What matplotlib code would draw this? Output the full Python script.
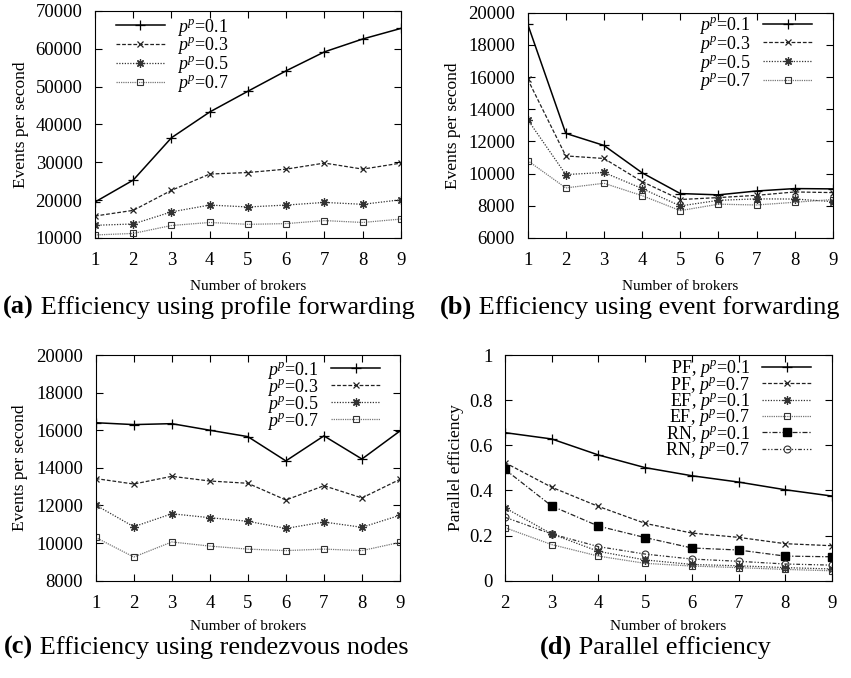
import numpy as np
import matplotlib
matplotlib.use("Agg")
import matplotlib.pyplot as plt
from matplotlib.ticker import FuncFormatter, MultipleLocator

plt.rcParams['font.family'] = ['Liberation Serif', 'DejaVu Serif']
plt.rcParams['mathtext.fontset'] = 'custom'
plt.rcParams['mathtext.rm'] = 'Liberation Serif'
plt.rcParams['mathtext.it'] = 'Liberation Serif:italic'

brokers = np.arange(1, 10)
brokers_d = np.arange(2, 10)

# (a) profile forwarding, events per second
pf_01 = [19500, 25300, 36500, 43300, 48800, 54200, 59200, 62600, 65400]
pf_03 = [15800, 17300, 22600, 26900, 27300, 28200, 29800, 28200, 29800]
pf_05 = [13350, 13700, 16900, 18700, 18200, 18700, 19400, 18900, 20100]
pf_07 = [10800, 11200, 13300, 14100, 13600, 13800, 14600, 14100, 15000]

# (b) event forwarding
ef_01 = [19300, 12500, 11750, 10050, 8760, 8680, 8920, 9070, 9050]
ef_03 = [15870, 11100, 10940, 9500, 8390, 8510, 8650, 8860, 8820]
ef_05 = [13360, 9940, 10070, 9070, 7990, 8340, 8430, 8420, 8260]
ef_07 = [10810, 9110, 9400, 8630, 7700, 8100, 8050, 8220, 8390]

# (c) rendezvous nodes
rn_01 = [16400, 16300, 16350, 16000, 15660, 14370, 15700, 14470, 15960]
rn_03 = [13430, 13140, 13550, 13300, 13180, 12290, 13050, 12400, 13390]
rn_05 = [12020, 10870, 11560, 11350, 11160, 10780, 11120, 10840, 11480]
rn_07 = [10300, 9260, 10060, 9840, 9680, 9600, 9680, 9600, 10040]

# (d) parallel efficiency
pe_pf_01 = [0.656, 0.628, 0.557, 0.501, 0.465, 0.437, 0.403, 0.375]
pe_pf_07 = [0.523, 0.414, 0.329, 0.254, 0.211, 0.192, 0.164, 0.155]
pe_ef_01 = [0.323, 0.207, 0.130, 0.092, 0.072, 0.066, 0.058, 0.052]
pe_ef_07 = [0.235, 0.160, 0.109, 0.077, 0.065, 0.058, 0.050, 0.044]
pe_rn_01 = [0.493, 0.331, 0.242, 0.191, 0.145, 0.136, 0.109, 0.106]
pe_rn_07 = [0.281, 0.207, 0.151, 0.118, 0.096, 0.086, 0.074, 0.069]

labels_pp = [r'$p^p$=0.1', r'$p^p$=0.3', r'$p^p$=0.5', r'$p^p$=0.7']
labels_d = [r'PF, $p^p$=0.1', r'PF, $p^p$=0.7', r'EF, $p^p$=0.1',
            r'EF, $p^p$=0.7', r'RN, $p^p$=0.1', r'RN, $p^p$=0.7']

# gnuplot-like line styles
star = (8, 2, 0)
styles = [
    dict(color='black', ls='-', lw=1.1, marker='+', ms=7, mew=0.9),
    dict(color='#222222', ls=(0, (3, 1.5)), lw=0.9, marker='x', ms=5, mew=0.9),
    dict(color='#333333', ls=(0, (1, 1.2)), lw=0.9, marker=star, ms=6, mew=0.9),
    dict(color='#777777', ls=(0, (1, 0.8)), lw=0.9, marker='s', ms=5,
         mfc='none', mec='#333333', mew=0.8),
]
styles_d = styles[:2] + [styles[2], styles[3],
    dict(color='#222222', ls=(0, (4, 1.5, 1, 1.5)), lw=0.9, marker='s', ms=5.5,
         mfc='black', mec='black'),
    dict(color='#333333', ls=(0, (3, 1.5, 1, 1.5, 1, 1.5)), lw=0.9, marker='o', ms=5,
         mfc='none', mec='#333333', mew=0.8),
]

tick_fs = 13.5
leg_fs = 13
fig = plt.figure(figsize=(8.51, 6.78), dpi=100)

ax_a = fig.add_axes([0.1116, 0.649, 0.3596, 0.3348])
ax_b = fig.add_axes([0.620, 0.649, 0.3588, 0.3323])
ax_c = fig.add_axes([0.1125, 0.1435, 0.3575, 0.3329])
ax_d = fig.add_axes([0.5934, 0.1435, 0.3843, 0.3329])


def style_axes(ax, ylab):
    ax.xaxis.set_major_locator(MultipleLocator(1))
    ax.tick_params(direction='in', top=True, right=True, length=5, width=0.8,
                   labelsize=tick_fs, pad=10)
    ax.tick_params(axis='y', pad=9)
    for s in ax.spines.values():
        s.set_linewidth(0.8)
    ax.set_ylabel(ylab, fontsize=12.5)
    ax.set_xlabel('Number of brokers', fontsize=11)


def draw_panel(ax, x, series, labels, sty):
    for y, lab, st in zip(series, labels, sty):
        ax.plot(x, y, label=lab, **st)


def add_legend(ax, loc, anchor, spacing, **kw):
    ax.legend(loc=loc, bbox_to_anchor=anchor, frameon=False, fontsize=leg_fs,
              handlelength=2.7, labelspacing=spacing, borderaxespad=0,
              borderpad=0, handletextpad=0.7, **kw)


draw_panel(ax_a, brokers, [pf_01, pf_03, pf_05, pf_07], labels_pp, styles)
ax_a.set_xlim(1, 9)
ax_a.set_ylim(10000, 70000)
ax_a.yaxis.set_major_locator(MultipleLocator(10000))
style_axes(ax_a, 'Events per second')
add_legend(ax_a, 'upper left', (0.069, 0.975), -0.12)

draw_panel(ax_b, brokers, [ef_01, ef_03, ef_05, ef_07], labels_pp, styles)
ax_b.set_xlim(1, 9)
ax_b.set_ylim(6000, 20000)
ax_b.yaxis.set_major_locator(MultipleLocator(2000))
style_axes(ax_b, 'Events per second')
add_legend(ax_b, 'upper right', (0.931, 0.99), -0.12, markerfirst=False)

draw_panel(ax_c, brokers, [rn_01, rn_03, rn_05, rn_07], labels_pp, styles)
ax_c.set_xlim(1, 9)
ax_c.set_ylim(8000, 20000)
ax_c.yaxis.set_major_locator(MultipleLocator(2000))
style_axes(ax_c, 'Events per second')
add_legend(ax_c, 'upper right', (0.934, 0.98), -0.22, markerfirst=False)

draw_panel(ax_d, brokers_d, [pe_pf_01, pe_pf_07, pe_ef_01, pe_ef_07, pe_rn_01, pe_rn_07],
           labels_d, styles_d)
ax_d.set_xlim(2, 9)
ax_d.set_ylim(0, 1)
ax_d.yaxis.set_major_locator(MultipleLocator(0.2))
ax_d.yaxis.set_major_formatter(FuncFormatter(lambda v, p: '%g' % round(v, 2)))
style_axes(ax_d, 'Parallel efficiency')
add_legend(ax_d, 'upper right', (0.936, 0.985), -0.26, markerfirst=False)

ax_a.yaxis.set_label_coords(-0.217, 0.5)
ax_b.yaxis.set_label_coords(-0.217, 0.5)
ax_c.yaxis.set_label_coords(-0.224, 0.5)
ax_d.yaxis.set_label_coords(-0.125, 0.5)
for ax in (ax_a, ax_b):
    ax.xaxis.set_label_coords(0.5, -0.185)
for ax in (ax_c, ax_d):
    ax.xaxis.set_label_coords(0.5, -0.174)

# sub-figure captions: bold letter, regular text
cap_fs = 19
captions = [(209, 0.547, 'a', 'Efficiency using profile forwarding'),
            (640, 0.547, 'b', 'Efficiency using event forwarding'),
            (206, 0.0457, 'c', 'Efficiency using rendezvous nodes'),
            (655, 0.0457, 'd', 'Parallel efficiency')]
fig.canvas.draw()
renderer = fig.canvas.get_renderer()
for cx, cy, letter, text in captions:
    t1 = fig.text(0, cy, '(' + letter + ')', fontsize=cap_fs, fontweight='bold', va='center')
    t2 = fig.text(0, cy, ' ' + text, fontsize=cap_fs, va='center')
    w1 = t1.get_window_extent(renderer).width
    w2 = t2.get_window_extent(renderer).width
    x0 = cx - (w1 + w2) / 2
    t1.set_x(x0 / 851)
    t2.set_x((x0 + w1) / 851)

fig.savefig('out.png', dpi=100)
